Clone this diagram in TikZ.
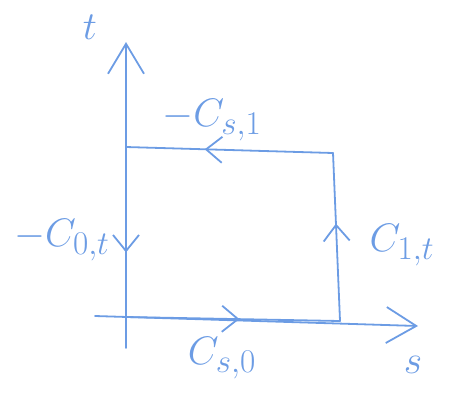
\documentclass[tikz,border=0pt]{standalone}
\usetikzlibrary{arrows.meta,decorations.markings}
\definecolor{pen}{HTML}{6C9CE4}
\begin{document}
\begin{tikzpicture}[x=1pt,y=-1pt, line width=1.8pt, draw=pen, line cap=round,
  lbl/.style={font=\Huge, scale=1.6, text=pen, inner sep=0pt},
  mid/.style={postaction={decorate}, decoration={markings, mark=at position #1 with {\arrow{Straight Barb[length=16pt,width=26pt]}}}},
  axistip/.style={-{Straight Barb[length=30pt,width=36pt]}}]
\useasboundingbox (0,0) rectangle (454,400);
% axes
\coordinate (tlow) at (126,348);
\coordinate (thigh) at (126,42);
\coordinate (sleft) at (95,316);
\coordinate (sright) at (418,326);
\draw[axistip] (tlow) -- (thigh);
\draw[axistip] (sleft) -- (sright);
% rectangle corners
\coordinate (bl) at (126,317);
\coordinate (br) at (340,321);
\coordinate (tr) at (333,153);
\coordinate (tl) at (126,147);
\draw[mid=0.53] (bl) -- (br);
\draw[mid=0.58] (br) -- (tr);
\draw[mid=0.62] (tr) -- (tl);
\draw[mid=0.62] (tl) -- (bl);
% labels
\node[lbl] (lt) at (90,27) {$t$};
\node[lbl] (ls) at (413,365) {$s$};
\node[lbl] (ltop) at (212,120) {$-C_{s,1}$};
\node[lbl] (lleft) at (62,240) {$-C_{0,t}$};
\node[lbl] (lright) at (402,245) {$C_{1,t}$};
\node[lbl] (lbot) at (222,358) {$C_{s,0}$};
\end{tikzpicture}
\end{document}
